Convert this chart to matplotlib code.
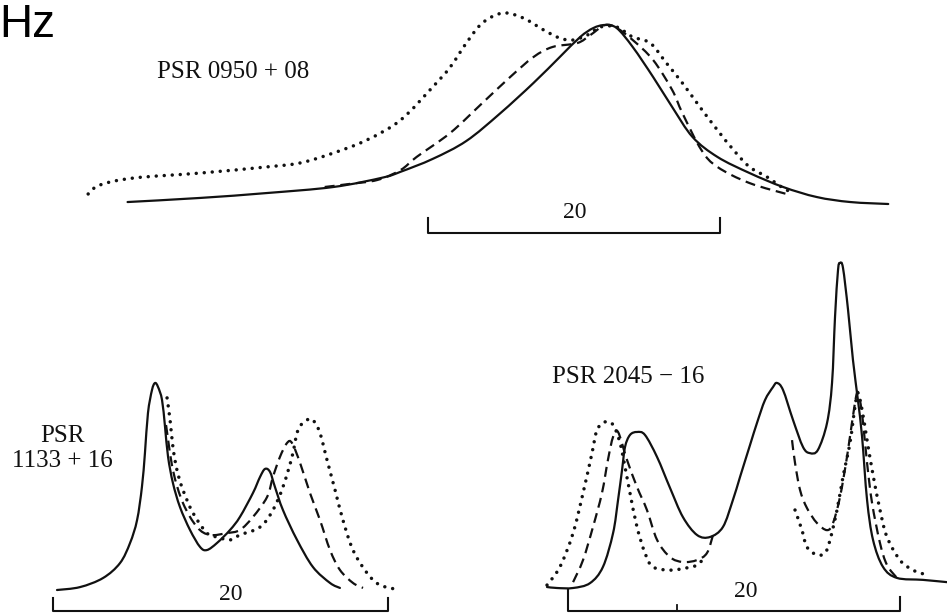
import numpy as np
import matplotlib
matplotlib.use("Agg")
import matplotlib.pyplot as plt
from matplotlib.path import Path
from matplotlib.patches import PathPatch

# pulse profiles: phase in degrees from the main peak, amplitude normalised to it
p0950_solid_deg = [-32.7, -27.7, -23.2, -18.6, -15.2, -14.0, -11.8, -9.5, -7.2, -4.9,
                   -3.1, -1.7, -0.8, 0.0, 0.8, 1.9, 3.3, 4.6, 6.0, 7.7,
                   9.9, 12.2, 14.5, 16.8, 19.4]
p0950_solid_amp = [0.011, 0.034, 0.061, 0.095, 0.148, 0.18, 0.252, 0.352, 0.505, 0.676,
                   0.821, 0.933, 0.983, 1.0, 0.983, 0.877, 0.709, 0.542, 0.374, 0.263,
                   0.173, 0.095, 0.039, 0.011, 0.0]
p0950_dashed_deg = [-19.2, -17.5, -15.6, -14.0, -12.9, -10.6, -8.4, -6.5, -4.9, -3.6,
                    -1.9, -1.0, 0.0, 0.8, 1.9, 3.3, 4.6, 5.3, 6.6, 7.7, 9.9, 12.7]
p0950_dashed_amp = [0.095, 0.112, 0.134, 0.19, 0.263, 0.397, 0.564, 0.709, 0.821, 0.877,
                    0.899, 0.944, 1.0, 0.983, 0.916, 0.804, 0.637, 0.508, 0.302, 0.207,
                    0.117, 0.05]
p0950_dotted_deg = [-35.4, -34.6, -32.3, -27.7, -23.2, -20.9, -18.6, -16.3, -14.0, -11.8,
                    -10.6, -9.5, -8.4, -7.0, -5.6, -4.2, -3.1, -2.2, -1.2, -0.3,
                    0.8, 1.9, 3.1, 4.2, 5.3, 6.5, 7.7, 8.8, 9.9, 11.1, 12.2, 12.9]
p0950_dotted_amp = [0.056, 0.106, 0.145, 0.173, 0.207, 0.229, 0.285, 0.358, 0.469, 0.654,
                    0.765, 0.899, 1.011, 1.067, 1.039, 0.972, 0.927, 0.916, 0.944, 0.989,
                    0.989, 0.933, 0.899, 0.788, 0.676, 0.542, 0.413, 0.302, 0.207, 0.151,
                    0.089, 0.061]

p1133_solid_deg = [-5.85, -4.48, -3.10, -2.09, -1.49, -1.07, -0.78, -0.60, -0.42, -0.18,
                   0.0, 0.18, 0.42, 0.60, 0.78, 1.07, 1.49, 2.09, 2.69, 3.10,
                   3.70, 4.48, 5.07, 5.85, 6.27, 6.57, 6.87, 7.16, 7.64, 8.48,
                   9.43, 10.45, 11.04]
p1133_solid_amp = [0.0, 0.014, 0.058, 0.130, 0.227, 0.338, 0.498, 0.662, 0.855, 0.966,
                   1.0, 0.981, 0.918, 0.787, 0.643, 0.517, 0.401, 0.290, 0.208, 0.193,
                   0.227, 0.290, 0.353, 0.469, 0.546, 0.585, 0.570, 0.498, 0.386, 0.242,
                   0.111, 0.034, 0.010]
p1133_dashed_deg = [0.66, 1.07, 1.67, 2.51, 3.28, 4.30, 5.07, 5.85, 6.69, 7.04,
                    7.46, 7.88, 8.18, 8.66, 9.25, 9.85, 10.45, 11.04, 11.82, 12.42]
p1133_dashed_amp = [0.797, 0.580, 0.420, 0.304, 0.266, 0.275, 0.290, 0.353, 0.449, 0.546,
                    0.643, 0.710, 0.710, 0.614, 0.469, 0.338, 0.193, 0.097, 0.034, 0.010]
p1133_dotted_deg = [0.72, 0.90, 1.07, 1.31, 1.67, 2.27, 3.10, 3.70, 4.48, 5.07,
                    6.27, 7.04, 7.64, 8.18, 8.54, 9.07, 9.43, 9.85, 10.27, 10.75,
                    11.22, 11.82, 12.66, 13.43, 14.63]
p1133_dotted_amp = [0.928, 0.821, 0.691, 0.580, 0.483, 0.372, 0.275, 0.256, 0.242, 0.266,
                    0.304, 0.386, 0.498, 0.643, 0.773, 0.821, 0.821, 0.758, 0.628, 0.483,
                    0.338, 0.193, 0.082, 0.024, 0.0]

p2045_solid_deg = [-17.65, -17.05, -16.08, -15.06, -14.28, -13.67, -13.37, -13.13, -12.95, -12.65,
                   -12.23, -11.75, -11.02, -10.24, -9.46, -8.61, -7.83, -7.05, -6.45, -6.02,
                   -5.42, -5.00, -4.52, -4.04, -3.80, -3.43, -2.83, -2.23, -1.81, -1.33,
                   -0.78, -0.48, -0.30, -0.12, 0.0, 0.18, 0.48, 0.78, 1.08, 1.33,
                   1.63, 1.99, 2.59, 3.43, 5.00, 6.45]
p2045_solid_amp = [0.003, 0.0, 0.0, 0.015, 0.065, 0.169, 0.271, 0.363, 0.434, 0.471,
                   0.480, 0.471, 0.403, 0.308, 0.218, 0.163, 0.157, 0.188, 0.271, 0.342,
                   0.440, 0.508, 0.578, 0.618, 0.631, 0.609, 0.517, 0.434, 0.415, 0.425,
                   0.508, 0.631, 0.834, 0.978, 1.0, 0.985, 0.858, 0.702, 0.578, 0.465,
                   0.271, 0.148, 0.065, 0.031, 0.025, 0.018]
# nan = stretch where the curve runs under the solid one
p2045_dashed_deg = [-16.08, -15.48, -14.88, -14.34, -13.98, -13.67, -13.37, -12.83, -12.23, -11.63,
                    -11.02, -10.24, -9.46, -8.61, -8.01, -7.65, np.nan,
                    -2.89, -2.71, -2.41, -1.99, -1.39, -0.78, -0.42, 0.0, 0.42,
                    0.72, 1.02, 1.20, 1.39, 1.63, 1.93, 2.41, 2.83, 3.43]
p2045_dashed_amp = [0.018, 0.086, 0.188, 0.292, 0.394, 0.465, 0.480, 0.394, 0.311, 0.240,
                    0.148, 0.095, 0.080, 0.086, 0.108, 0.163, np.nan,
                    0.455, 0.385, 0.302, 0.246, 0.200, 0.178, 0.200, 0.280, 0.403,
                    0.508, 0.600, 0.578, 0.508, 0.385, 0.262, 0.138, 0.071, 0.031]
p2045_dotted_deg = [-17.65, -16.87, -16.08, -15.48, -14.94, -14.64, -14.16, -13.67, -13.25, -12.95,
                    -12.65, -12.23, -11.75, -11.27, -10.24, -9.22, -8.61, -8.13, np.nan,
                    -2.71, -2.29, -1.99, -1.39, -0.90, -0.60, -0.18, 0.18, 0.60, 0.90,
                    1.08, 1.33, 1.63, 1.99, 2.41, 2.83, 3.61, 4.40, 5.24]
p2045_dotted_amp = [0.009, 0.065, 0.169, 0.292, 0.415, 0.486, 0.511, 0.502, 0.446, 0.372,
                    0.292, 0.188, 0.108, 0.065, 0.055, 0.062, 0.071, 0.095, np.nan,
                    0.240, 0.178, 0.126, 0.102, 0.108, 0.148, 0.240, 0.342, 0.446, 0.557,
                    0.600, 0.548, 0.455, 0.348, 0.240, 0.157, 0.086, 0.055, 0.040]

scale_len = 20
scale_text = "20"

W, H = 947, 614
SERIF = ["Liberation Serif", "DejaVu Serif"]
INK = "#111111"

fig = plt.figure(figsize=(W / 100, H / 100), dpi=100)
fig.patch.set_facecolor("white")

# overlay in pixel units, used for the lettering
ann = fig.add_axes([0, 0, 1, 1])
ann.set_xlim(0, W); ann.set_ylim(H, 0); ann.axis("off")


def panel(peak_px, base_px, px_per_deg, px_per_amp):
    ax = fig.add_axes([0, 0, 1, 1])
    ax.set_xlim(-peak_px / px_per_deg, (W - peak_px) / px_per_deg)
    ax.set_ylim((base_px - H) / px_per_amp, base_px / px_per_amp)
    ax.axis("off")
    ax.patch.set_alpha(0)
    return ax


def smooth_path(xs, ys):
    """Catmull-Rom through the points as cubic Bezier segments; nan splits."""
    xs = np.asarray(xs, float); ys = np.asarray(ys, float)
    verts, codes = [], []
    breaks = np.flatnonzero(np.isnan(xs))
    for seg in np.split(np.arange(len(xs)), breaks):
        seg = seg[~np.isnan(xs[seg])]
        p = np.column_stack([xs[seg], ys[seg]])
        if len(p) < 2:
            continue
        ext = np.vstack([p[0], p, p[-1]])
        verts.append(p[0]); codes.append(Path.MOVETO)
        for i in range(1, len(ext) - 2):
            p0, p1, p2, p3 = ext[i - 1], ext[i], ext[i + 1], ext[i + 2]
            verts += [p1 + (p2 - p0) / 6, p2 - (p3 - p1) / 6, p2]
            codes += [Path.CURVE4] * 3
    return Path(verts, codes)


def curve(ax, xs, ys, **kw):
    ax.add_patch(PathPatch(smooth_path(xs, ys), fill=False, edgecolor=INK, **kw))


def profiles(ax, solid, dashed, dotted):
    curve(ax, *solid, lw=1.6, capstyle="round", joinstyle="round")
    curve(ax, *dashed, lw=1.6, linestyle=(0, (4.5, 2.6)))
    curve(ax, *dotted, lw=2.5, linestyle=(0, (0.01, 2.3)), capstyle="round")


def scale_bar(ax, start, level, left_top, right_top, mid=None):
    ax.plot([start, start, start + scale_len, start + scale_len],
            [left_top, level, level, right_top], color=INK, lw=1.5)
    if mid is not None:
        ax.plot([start + mid[0]] * 2, [level, mid[1]], color=INK, lw=1.3)


ax1 = panel(605, 204, 14.6, 179)
profiles(ax1, (p0950_solid_deg, p0950_solid_amp), (p0950_dashed_deg, p0950_dashed_amp),
         (p0950_dotted_deg, p0950_dotted_amp))
scale_bar(ax1, -12.12, -0.162, -0.078, -0.078)

ax2 = panel(155, 590, 16.75, 207)
profiles(ax2, (p1133_solid_deg, p1133_solid_amp), (p1133_dashed_deg, p1133_dashed_amp),
         (p1133_dotted_deg, p1133_dotted_amp))
scale_bar(ax2, -6.09, -0.101, -0.039, -0.039)

ax3 = panel(840, 588, 16.6, 325)
profiles(ax3, (p2045_solid_deg, p2045_solid_amp), (p2045_dashed_deg, p2045_dashed_amp),
         (p2045_dotted_deg, p2045_dotted_amp))
scale_bar(ax3, -16.39, -0.071, -0.006, -0.028, mid=(6.6, -0.052))

# labels
ann.text(-1, 37, "Hz", family=["Liberation Sans", "DejaVu Sans"], fontsize=33,
         color="black", va="baseline", ha="left")
serif_kw = dict(family=SERIF, color=INK, va="baseline")
ann.text(157, 78, "PSR 0950 + 08", fontsize=18, **serif_kw)
ann.text(62, 442, "PSR", fontsize=18, ha="center", **serif_kw)
ann.text(62, 467, "1133 + 16", fontsize=18, ha="center", **serif_kw)
ann.text(552, 383, "PSR 2045 \u2212 16", fontsize=18, **serif_kw)
ann.text(575, 218, scale_text, fontsize=17, ha="center", **serif_kw)
ann.text(231, 600, scale_text, fontsize=17, ha="center", **serif_kw)
ann.text(746, 597, scale_text, fontsize=17, ha="center", **serif_kw)

fig.savefig("out.png", dpi=100, facecolor="white")
